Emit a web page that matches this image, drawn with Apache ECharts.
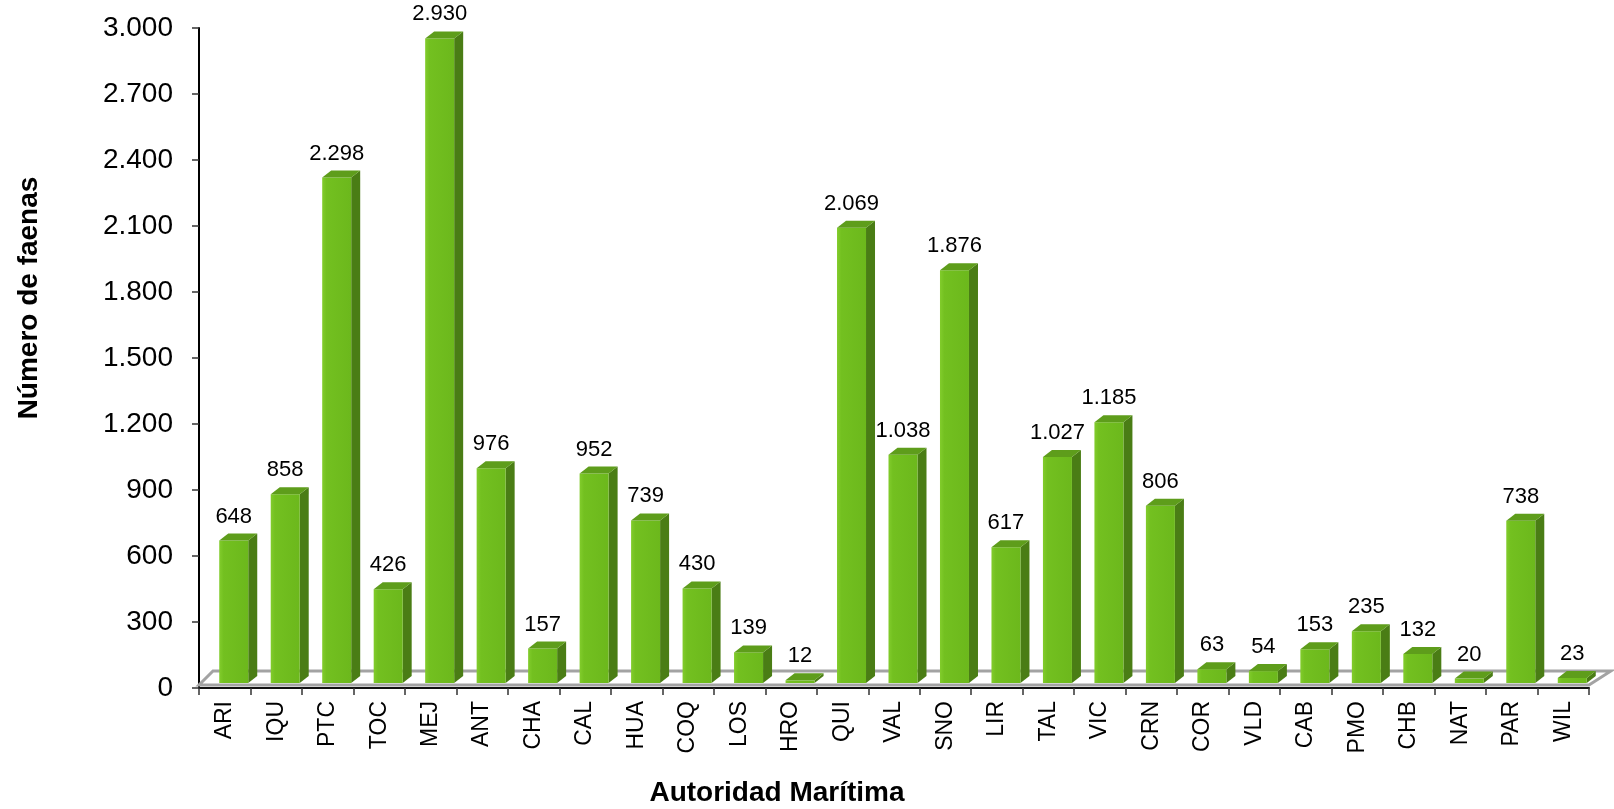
<!DOCTYPE html>
<html>
<head>
<meta charset="utf-8">
<title>Número de faenas por Autoridad Marítima</title>
<script src="https://cdn.jsdelivr.net/npm/echarts@6/dist/echarts.min.js"></script>
<style>
    html, body { margin: 0; padding: 0; background: #fff; }
    #main { width: 1614px; height: 809px; }
</style>
</head>
<body>
<div id="main"></div>
<script>
// datos
var categorias = ['ARI', 'IQU', 'PTC', 'TOC', 'MEJ', 'ANT', 'CHA', 'CAL', 'HUA', 'COQ', 'LOS', 'HRO', 'QUI', 'VAL',
    'SNO', 'LIR', 'TAL', 'VIC', 'CRN', 'COR', 'VLD', 'CAB', 'PMO', 'CHB', 'NAT', 'PAR', 'WIL'];
var faenas = [648, 858, 2298, 426, 2930, 976, 157, 952, 739, 430, 139, 12, 2069, 1038,
    1876, 617, 1027, 1185, 806, 63, 54, 153, 235, 132, 20, 738, 23];
var yMin = 0;
var yMax = 3000;
var yPaso = 300;

var fuente = "'Liberation Sans', Arial, sans-serif";

function miles(v) {
    return String(v).replace(/\B(?=(\d{3})+(?!\d))/g, '.');
}

// piso gris del grafico 3D
function renderPiso(params, api) {
    var bw = api.size([1, 0])[0];
    var a = api.coord([0, 0]);
    var b = api.coord([categorias.length - 1, 0]);
    var xL = a[0] - bw / 2, xR = b[0] + bw / 2;
    var yF = a[1] - 3, yB = a[1] - 17;
    return {
        type: 'polygon',
        shape: {points: [[xL, yF], [xR, yF], [xR + 22, yB], [xL + 14, yB]]},
        style: {fill: '#ffffff', stroke: '#a3a3a3', lineWidth: 3}
    };
}

// barra con cara frontal, superior y lateral
function renderBarra(params, api) {
    var idx = api.value(0);
    var v = api.value(1);
    var c = api.coord([idx, v]);
    var base = api.coord([idx, 0]);
    var dx = 9, dy = 7;
    var x0 = c[0] - 5.5, x1 = c[0] + 23.5;
    var yt = c[1] - 5, yb = base[1] - 5;
    return {
        type: 'group',
        children: [
            {
                type: 'polygon',
                shape: {points: [[x1, yt], [x1 + dx, yt - dy], [x1 + dx, yb - dy], [x1, yb]]},
                style: {fill: '#4a7d15'}
            },
            {
                type: 'rect',
                shape: {x: x0, y: yt, width: x1 - x0, height: yb - yt},
                style: {
                    fill: new echarts.graphic.LinearGradient(0, 0, 1, 0, [
                        {offset: 0, color: '#82cc2c'},
                        {offset: 0.15, color: '#73c020'},
                        {offset: 1, color: '#6cb81c'}
                    ])
                }
            },
            {
                type: 'polygon',
                shape: {points: [[x0, yt], [x1, yt], [x1 + dx, yt - dy], [x0 + dx, yt - dy]]},
                style: {fill: '#5e9d1b'}
            },
            {
                type: 'text',
                style: {
                    x: c[0] + 9, y: yt - 13,
                    text: miles(v),
                    fill: '#000',
                    fontSize: 22,
                    fontFamily: fuente,
                    align: 'center',
                    verticalAlign: 'bottom'
                }
            }
        ]
    };
}

var myChart = echarts.init(document.getElementById('main'));

var datos = faenas.map(function (v, i) { return [i, v]; });

var option = {
    backgroundColor: '#ffffff',
    animation: false,
    grid: {
        left: 199,
        right: 25,
        top: 28,
        bottom: 121,
        containLabel: false,
        outerBoundsMode: 'none'
    },
    xAxis: {
        type: 'category',
        data: categorias,
        axisLine: {show: true, lineStyle: {color: '#111', width: 2}},
        axisTick: {show: true, length: 7, lineStyle: {color: '#333', width: 1.5}},
        axisLabel: {rotate: 90, interval: 0, fontSize: 23, color: '#000', margin: 13, fontFamily: fuente},
        splitLine: {show: false}
    },
    yAxis: {
        type: 'value',
        min: yMin,
        max: yMax,
        interval: yPaso,
        axisLine: {show: true, lineStyle: {color: '#000', width: 2}},
        axisTick: {show: true, length: 7, lineStyle: {color: '#333', width: 1.5}},
        axisLabel: {fontSize: 28, color: '#000', margin: 26, fontFamily: fuente, formatter: miles},
        splitLine: {show: false}
    },
    graphic: [
        {
            type: 'text',
            x: 29, y: 298,
            rotation: Math.PI / 2,
            style: {
                text: 'Número de faenas',
                fontSize: 28, fontWeight: 'bold', fontFamily: fuente,
                fill: '#000', align: 'center', verticalAlign: 'middle'
            }
        },
        {
            type: 'text',
            x: 777, y: 793,
            style: {
                text: 'Autoridad Marítima',
                fontSize: 28, fontWeight: 'bold', fontFamily: fuente,
                fill: '#000', align: 'center', verticalAlign: 'middle'
            }
        }
    ],
    series: [
        {
            name: 'piso',
            type: 'custom',
            renderItem: renderPiso,
            data: [[0, 0]],
            z: 1,
            silent: true
        },
        {
            name: 'Número de faenas',
            type: 'custom',
            renderItem: renderBarra,
            encode: {x: 0, y: 1},
            data: datos,
            z: 3
        }
    ]
};
myChart.setOption(option);
</script>
</body>
</html>
